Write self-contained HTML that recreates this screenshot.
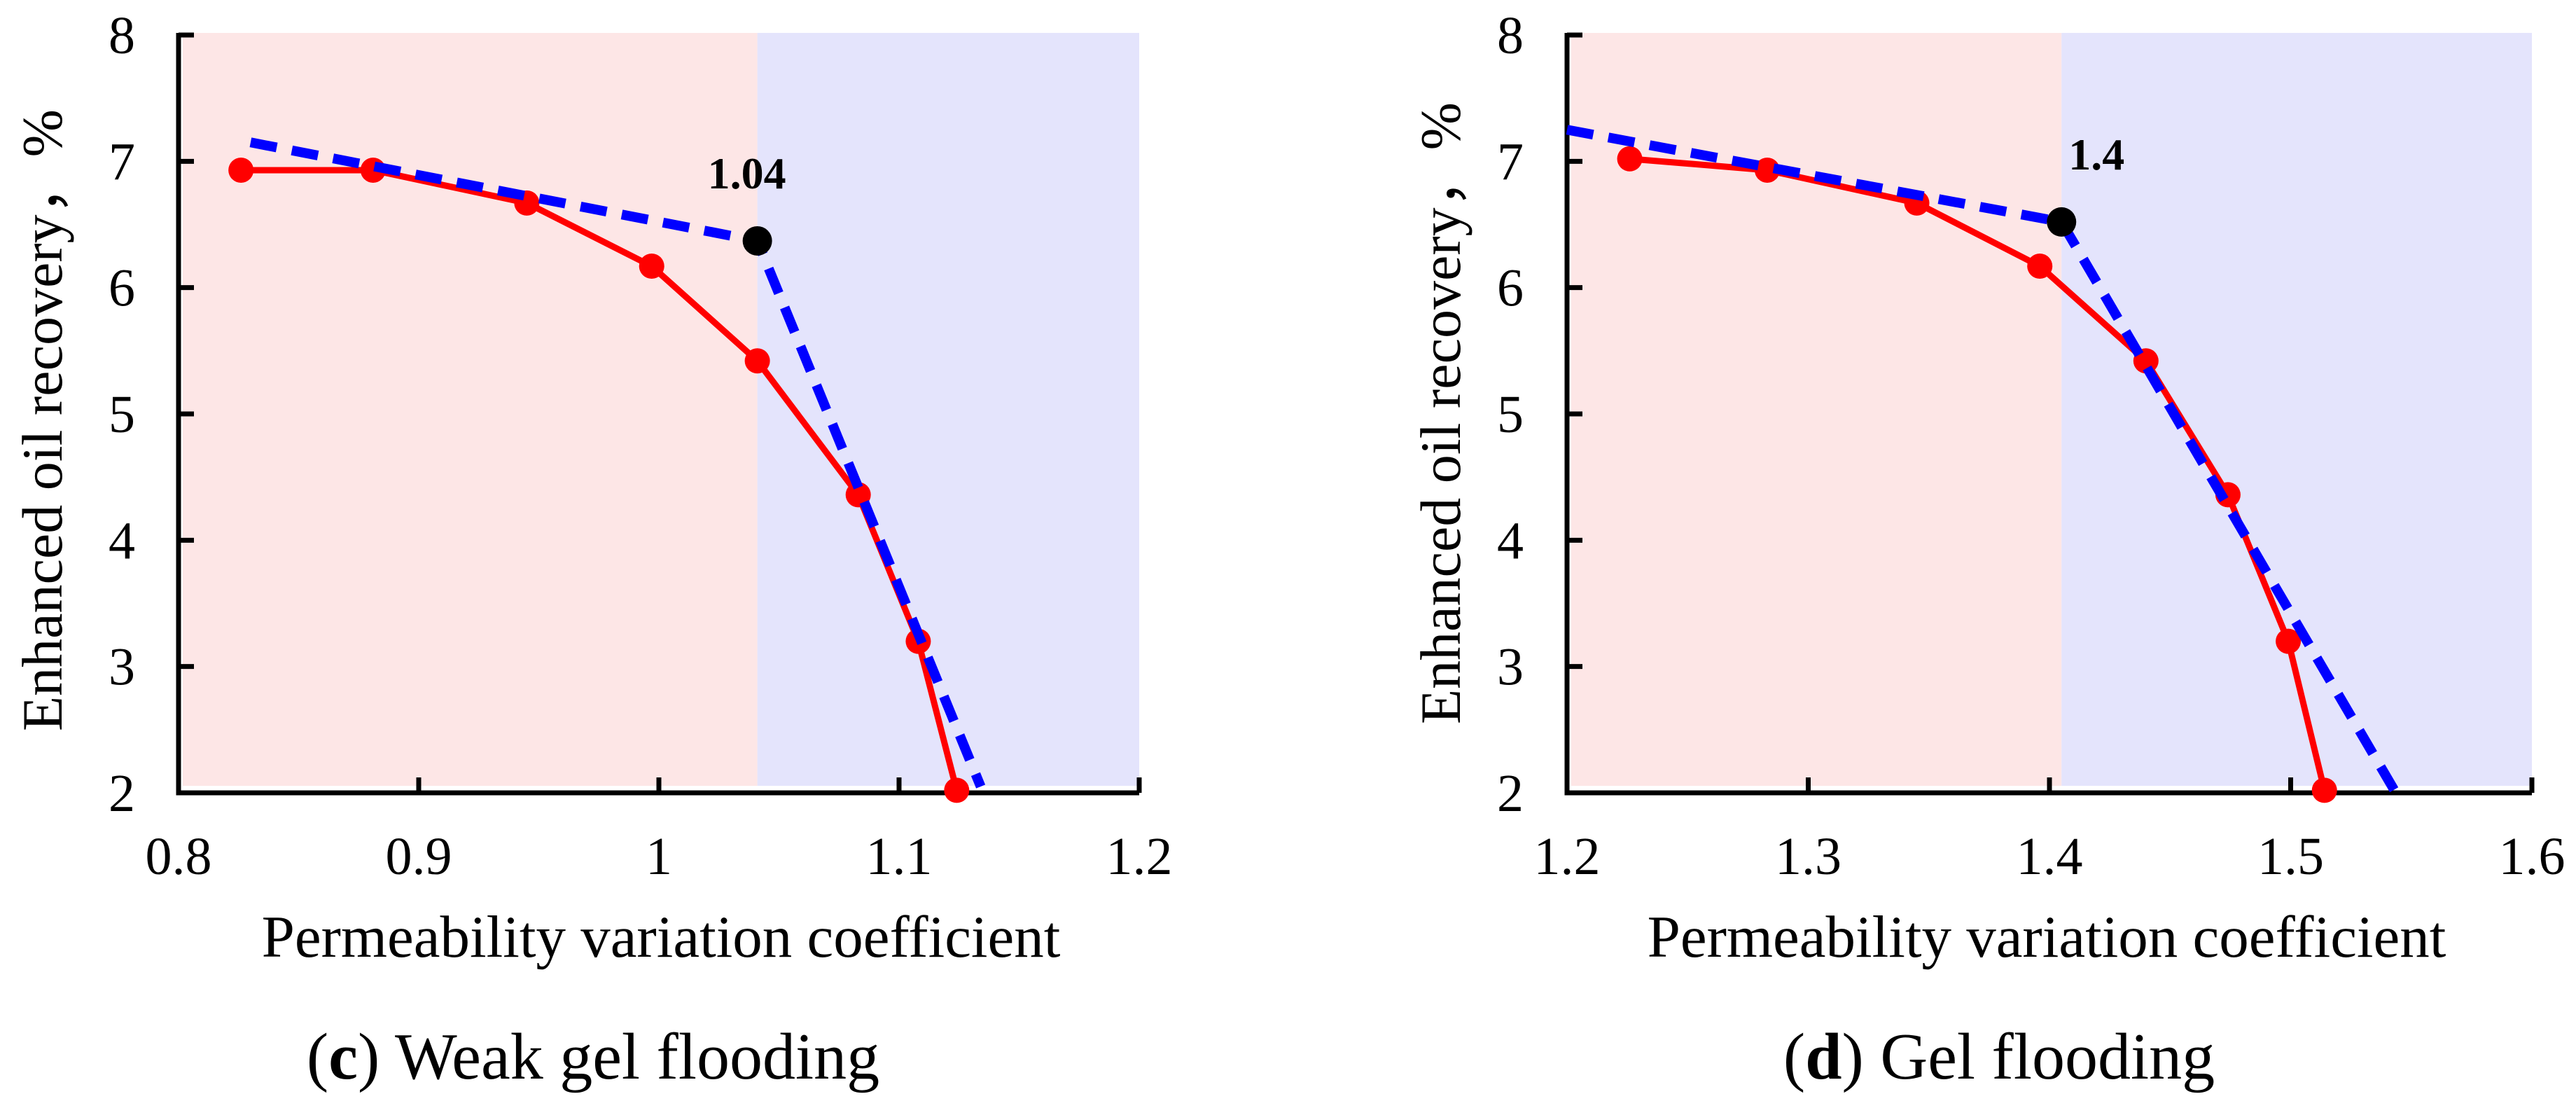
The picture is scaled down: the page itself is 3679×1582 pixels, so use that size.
<!DOCTYPE html>
<html><head><meta charset="utf-8"><style>
html,body{margin:0;padding:0;background:#fff;width:3679px;height:1582px;overflow:hidden}
svg{display:block}
text{font-family:"Liberation Serif",serif;fill:#000}
</style></head><body>
<svg id="fig" width="3679" height="1582" viewBox="0 0 3679 1582"></svg>
<script>
// Panel c data
const cX = [0.826,0.881,0.945,0.997,1.041,1.083,1.108,1.124];
const cY = [6.93,6.93,6.67,6.17,5.42,4.36,3.2,2.02];
const cFitX = [0.83,1.041,1.134];
const cFitY = [7.15,6.37,2.05];
const cBreak = [1.041,6.37];
const cTicksX = [0.8,0.9,1.0,1.1,1.2];
const cTickLabelsX = ["0.8","0.9","1","1.1","1.2"];
// Panel d data
const dX = [1.226,1.283,1.345,1.396,1.44,1.474,1.499,1.514];
const dY = [7.02,6.93,6.67,6.17,5.42,4.36,3.2,2.02];
const dFitX = [1.2,1.405,1.543];
const dFitY = [7.25,6.52,2.02];
const dBreak = [1.405,6.52];
const dTicksX = [1.2,1.3,1.4,1.5,1.6];
const dTickLabelsX = ["1.2","1.3","1.4","1.5","1.6"];
const ticksY = [2,3,4,5,6,7,8];

const NS="http://www.w3.org/2000/svg";
const svg=document.getElementById('fig');
function mk(tag,attrs,parent){const e=document.createElementNS(NS,tag);for(const k in attrs)e.setAttribute(k,attrs[k]);(parent||svg).appendChild(e);return e;}

function panel(cfg){
  const g=mk('g',{});
  
  
  const x0=cfg.left,x1=cfg.right,yTop=50,yBot=1132;
  const xmin=cfg.ticksX[0],xmax=cfg.ticksX[cfg.ticksX.length-1];
  const sx=v=>x0+(v-xmin)/(xmax-xmin)*(x1-x0);
  const sy=v=>yBot-(v-2)/6*(yBot-yTop);
  const bx=sx(cfg.brk[0]);
  const r1=mk('rect',{x:x0+6,y:47,width:bx-x0-6,height:1122-47,fill:'#fde6e6'},g);
  
  
  const r2=mk('rect',{x:bx,y:47,width:x1-bx,height:1122-47,fill:'#e4e4fc'},g);
  
  
  const ax=mk('path',{d:`M${x0},${yTop-3} V${yBot} H${x1}`,stroke:'#000','stroke-width':7,fill:'none'},g);
  
  
  ticksY.forEach(t=>{
    mk('line',{x1:x0,x2:x0+22,y1:sy(t),y2:sy(t),stroke:'#000','stroke-width':7},g);
    const tl=mk('text',{x:x0-62,y:sy(t)+26,'font-size':76,'text-anchor':'end'},g);
    tl.textContent=String(t);
    
    
  });
  cfg.ticksX.forEach((t,i)=>{
    mk('line',{x1:sx(t),x2:sx(t),y1:yBot,y2:yBot-22,stroke:'#000','stroke-width':7},g);
    const tl=mk('text',{x:sx(t),y:1248,'font-size':76,'text-anchor':'middle'},g);
    tl.textContent=cfg.tickLabels[i];
    
    
  });
  const pts=cfg.xs.map((v,i)=>sx(v)+','+sy(cfg.ys[i])).join(' ');
  const pl=mk('polyline',{points:pts,stroke:'#ff0000','stroke-width':9,fill:'none','stroke-linejoin':'round'},g);
  
  
  cfg.xs.forEach((v,i)=>{
    const c=mk('circle',{cx:sx(v),cy:sy(cfg.ys[i]),r:18,fill:'#ff0000'},g);
    
    
  });
  const fp=cfg.fx.map((v,i)=>sx(v)+','+sy(cfg.fy[i])).join(' ');
  const fl=mk('polyline',{points:fp,stroke:'#0000ff','stroke-width':14,fill:'none','stroke-dasharray':'38 22'},g);
  
  
  const bp=mk('circle',{cx:sx(cfg.brk[0]),cy:sy(cfg.brk[1]),r:21,fill:'#000'},g);
  
  
  const bl=mk('text',{x:sx(cfg.brk[0])+cfg.lblDx,y:sy(cfg.brk[1])-75,'font-size':64,'font-weight':'bold','text-anchor':'middle'},g);
  bl.textContent=cfg.brkLabel;
  
  
  const yt=mk('text',{x:0,y:0,'font-size':82,'text-anchor':'middle',transform:`translate(${cfg.yTitleX},${cfg.yTitleY}) rotate(-90)`},g);
  yt.textContent='Enhanced oil recovery，%';
  
  
  const xt=mk('text',{x:cfg.xTitleX,y:1366,'font-size':85,'text-anchor':'middle'},g);
  xt.textContent='Permeability variation coefficient';
  
  
  const cap=mk('text',{x:cfg.capX,y:1540,'font-size':94,'text-anchor':'middle'},g);
  cap.innerHTML='(<tspan font-weight="bold">'+cfg.letter+'</tspan>) '+cfg.caption;
  
  
}
panel({name:'panel-c-weak-gel',left:255,right:1627,xs:cX,ys:cY,fx:cFitX,fy:cFitY,brk:cBreak,brkLabel:'1.04',lblDx:-15,
  ticksX:cTicksX,tickLabels:cTickLabelsX,yTitleX:88,yTitleY:600,xTitleX:944,capX:847,letter:'c',caption:'Weak gel flooding'});
panel({name:'panel-d-gel',left:2238,right:3616,xs:dX,ys:dY,fx:dFitX,fy:dFitY,brk:dBreak,brkLabel:'1.4',lblDx:50,
  ticksX:dTicksX,tickLabels:dTickLabelsX,yTitleX:2085,yTitleY:590,xTitleX:2923,capX:2855,letter:'d',caption:'Gel flooding'});
</script>
</body></html>
